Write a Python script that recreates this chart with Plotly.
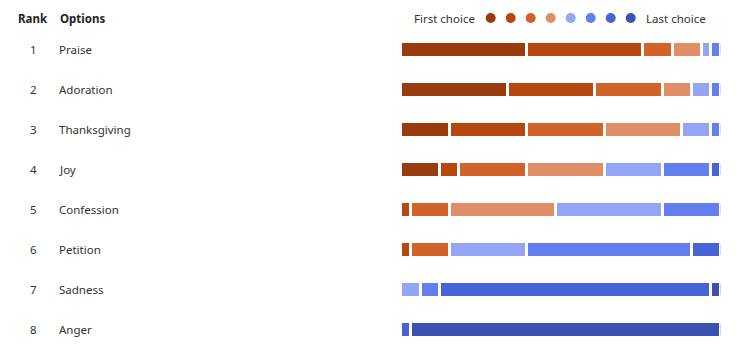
import plotly.graph_objects as go

# ---- data ----
options = ["Praise", "Adoration", "Thanksgiving", "Joy", "Confession", "Petition", "Sadness", "Anger"]
ranks = [1, 2, 3, 4, 5, 6, 7, 8]
# number of respondents placing each option at choice position 1..8
choice1 = [13, 11, 5, 4, 0, 0, 0, 0]
choice2 = [12, 9, 8, 2, 1, 1, 0, 0]
choice3 = [3, 7, 8, 7, 4, 4, 0, 0]
choice4 = [3, 3, 8, 8, 11, 0, 0, 0]
choice5 = [1, 2, 3, 6, 11, 8, 2, 0]
choice6 = [1, 1, 1, 5, 6, 17, 2, 0]
choice7 = [0, 0, 0, 1, 0, 3, 28, 1]
choice8 = [0, 0, 0, 0, 0, 0, 1, 32]
choices = [choice1, choice2, choice3, choice4, choice5, choice6, choice7, choice8]
colors = ["#9A3B0D", "#B5470F", "#D16229", "#E08E65", "#93A5F4", "#637FEF", "#4763D8", "#3C52B3"]

OFF = 8  # page body margin of the html output
W, H = 746 - OFF, 357 - OFF
row0_px, row_step = 49.5 - OFF, 40.0
bar_left_px, bar_right_px = 400.8 - OFF, 720.5 - OFF
total = sum(c[0] for c in choices)

fig = go.Figure()
for vals, col in zip(choices, colors):
    fig.add_trace(go.Bar(
        y=list(range(len(options))),
        x=[v if v else None for v in vals],
        orientation="h",
        marker=dict(color=col, line=dict(color="white", width=3)),
        width=15.5 / row_step,
        hoverinfo="skip",
    ))

def ypos(px):
    return (px - OFF - row0_px) / row_step

fig.update_layout(
    barmode="stack",
    width=W, height=H,
    margin=dict(l=0, r=0, t=0, b=0),
    paper_bgcolor="white", plot_bgcolor="white",
    showlegend=False,
    barcornerradius=2,
    xaxis=dict(domain=[bar_left_px / W, bar_right_px / W], range=[0, total],
               visible=False, fixedrange=True),
    yaxis=dict(range=[ypos(357), ypos(OFF)], visible=False, fixedrange=True),
    font=dict(family="Segoe UI, Noto Sans, sans-serif", size=11.5, color="#323130"),
)

def px(x):
    return (x - OFF) / W

hdr_y = ypos(18)
ann = []
ann.append(dict(x=px(15.5), y=hdr_y, xref="paper", yref="y", text="<b>Rank</b>",
                showarrow=False, xanchor="left", yanchor="middle",
                font=dict(size=11.5, color="#252423")))
ann.append(dict(x=px(57.5), y=hdr_y, xref="paper", yref="y", text="<b>Options</b>",
                showarrow=False, xanchor="left", yanchor="middle",
                font=dict(size=11.5, color="#252423")))
for i, (r, o) in enumerate(zip(ranks, options)):
    ann.append(dict(x=px(33.5), y=i, xref="paper", yref="y", text=str(r),
                    showarrow=False, xanchor="center", yanchor="middle"))
    ann.append(dict(x=px(56.5), y=i, xref="paper", yref="y", text=o,
                    showarrow=False, xanchor="left", yanchor="middle"))
ann.append(dict(x=px(477), y=hdr_y, xref="paper", yref="y", text="First choice",
                showarrow=False, xanchor="right", yanchor="middle"))
ann.append(dict(x=px(644), y=hdr_y, xref="paper", yref="y", text="Last choice",
                showarrow=False, xanchor="left", yanchor="middle"))
fig.update_layout(annotations=ann)

shapes = []
for k, col in enumerate(colors):
    cx = 490.7 + 20 * k - OFF
    cy = 18 - OFF
    shapes.append(dict(type="circle", xref="paper", yref="paper",
                       x0=(cx - 5) / W, x1=(cx + 5) / W,
                       y0=1 - (cy + 5) / H, y1=1 - (cy - 5) / H,
                       fillcolor=col, line=dict(width=0)))
fig.update_layout(shapes=shapes)

fig.write_html("out.html")
